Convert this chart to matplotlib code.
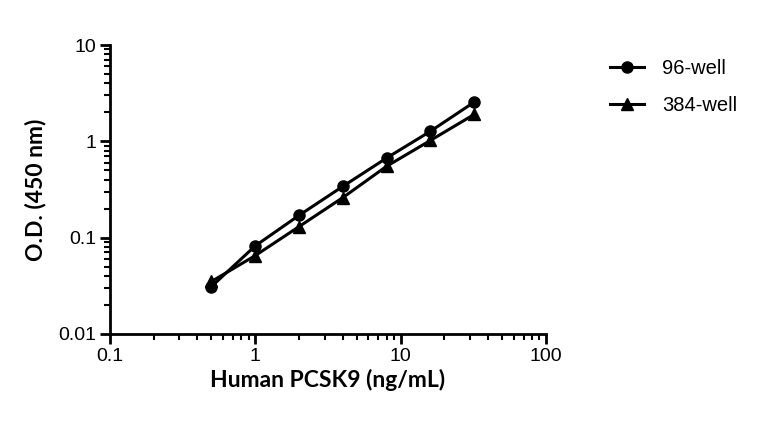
import matplotlib
matplotlib.use("Agg")
import matplotlib.pyplot as plt
from matplotlib.ticker import LogLocator, NullFormatter, FixedLocator

# --- datos ---
conc = [0.5, 1, 2, 4, 8, 16, 32]
od_96 = [0.031, 0.082, 0.17, 0.34, 0.67, 1.27, 2.55]
od_384 = [0.035, 0.065, 0.13, 0.26, 0.55, 1.02, 1.9]
series_names = ["96-well", "384-well"]
x_ticks = [0.1, 1, 10, 100]
x_tick_labels = ["0.1", "1", "10", "100"]
y_ticks = [0.01, 0.1, 1, 10]
y_tick_labels = ["0.01", "0.1", "1", "10"]

plt.rcParams["font.family"] = ["Liberation Sans", "DejaVu Sans"]

fig = plt.figure(figsize=(7.68, 4.21), dpi=100)
ax = fig.add_axes([0.143, 0.207, 0.568, 0.686])

ax.plot(conc, od_96, color="black", lw=2.2, marker="o", ms=8, label=series_names[0])
ax.plot(conc, od_384, color="black", lw=2.2, marker="^", ms=8, label=series_names[1])

ax.set_xscale("log")
ax.set_yscale("log")
ax.set_xlim(0.1, 100)
ax.set_ylim(0.01, 10)

ax.xaxis.set_major_locator(FixedLocator(x_ticks))
ax.set_xticklabels(x_tick_labels)
ax.yaxis.set_major_locator(FixedLocator(y_ticks))
ax.set_yticklabels(y_tick_labels)
ax.xaxis.set_minor_locator(LogLocator(base=10, subs=range(2, 10)))
ax.yaxis.set_minor_locator(LogLocator(base=10, subs=range(2, 10)))
ax.xaxis.set_minor_formatter(NullFormatter())
ax.yaxis.set_minor_formatter(NullFormatter())

ax.spines["top"].set_visible(False)
ax.spines["right"].set_visible(False)
ax.spines["left"].set_linewidth(2)
ax.spines["bottom"].set_linewidth(2)
ax.tick_params(which="major", length=7, width=2, labelsize=14, direction="out", pad=3)
ax.tick_params(which="minor", length=4, width=1.5, direction="out")

ax.set_xlabel("Human PCSK9 (ng/mL)", fontsize=16.5, fontweight="bold",
              family=["Lato", "DejaVu Sans"], labelpad=3)
ax.set_ylabel("O.D. (450 nm)", fontsize=16.5, fontweight="bold",
              family=["Lato", "DejaVu Sans"], labelpad=8)

ax.legend(loc="upper left", bbox_to_anchor=(1.105, 1.015), frameon=False,
          fontsize=14.5, handlelength=1.7, labelspacing=0.9, handletextpad=0.9)

fig.savefig("out.png", dpi=100)
